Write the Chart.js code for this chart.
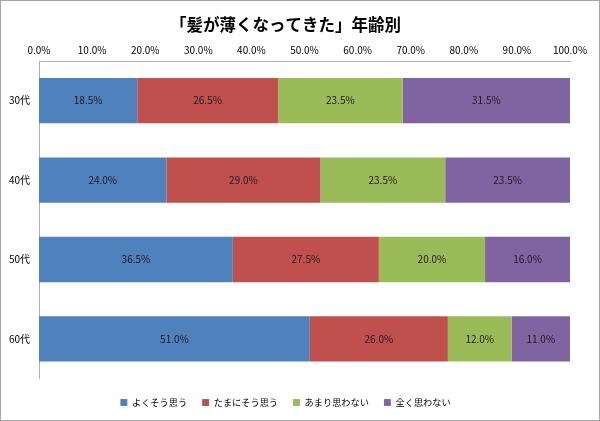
<!DOCTYPE html>
<html>
<head>
<meta charset="utf-8">
<script src="https://cdn.jsdelivr.net/npm/chart.js@4/dist/chart.umd.min.js"></script>
<style>
  html, body { margin: 0; padding: 0; background: #fff; }
  #wrap { position: relative; width: 600px; height: 421px; box-sizing: border-box; border: 1px solid #a6a6a6; }
  canvas { display: block; }
</style>
</head>
<body>
<div id="wrap"><canvas id="grafico" width="598" height="419"></canvas></div>
<script>
const categorias = ['30代', '40代', '50代', '60代'];
const series = ['よくそう思う', 'たまにそう思う', 'あまり思わない', '全く思わない'];
const yokuSouOmou = [18.5, 24.0, 36.5, 51.0];
const tamaniSouOmou = [26.5, 29.0, 27.5, 26.0];
const amariOmowanai = [23.5, 23.5, 20.0, 12.0];
const mattakuOmowanai = [31.5, 23.5, 16.0, 11.0];
const cores = ['#4F81BD', '#C0504D', '#9BBB59', '#8064A2'];

const fonte = '"Noto Sans CJK JP", "Noto Sans", sans-serif';

// rótulos no meio de cada segmento
const rotulos = {
  id: 'rotulos',
  afterDatasetsDraw(chart) {
    const ctx = chart.ctx;
    ctx.save();
    ctx.font = '10px ' + fonte;
    ctx.fillStyle = '#1a1a1a';
    ctx.textAlign = 'center';
    ctx.textBaseline = 'middle';
    chart.data.datasets.forEach((ds, i) => {
      chart.getDatasetMeta(i).data.forEach((bar, j) => {
        const x = (bar.x + bar.base) / 2;
        ctx.fillText(ds.data[j].toFixed(1) + '%', x, bar.y);
      });
    });
    ctx.restore();
  }
};

const valores = [yokuSouOmou, tamaniSouOmou, amariOmowanai, mattakuOmowanai];

new Chart(document.getElementById('grafico'), {
  type: 'bar',
  data: {
    labels: categorias,
    datasets: series.map((nome, i) => ({
      label: nome,
      data: valores[i],
      backgroundColor: cores[i],
      borderColor: 'rgba(255,255,255,0.5)',
      borderWidth: { left: 1, right: 0, top: 0, bottom: 0 },
      categoryPercentage: 0.57,
      barPercentage: 1.0
    }))
  },
  options: {
    indexAxis: 'y',
    responsive: false,
    animation: false,
    layout: { padding: { left: 0, right: 29, top: 10, bottom: 3 } },
    plugins: {
      title: {
        display: true,
        text: '「髪が薄くなってきた」年齢別',
        font: { family: fonte, size: 16.5, weight: 'bold' },
        color: '#000',
        padding: { top: 4, bottom: 5.4 }
      },
      legend: {
        position: 'bottom',
        title: { display: true, text: '', font: { size: 1 }, padding: { top: 1.5, bottom: 1.5 } },
        labels: {
          usePointStyle: true,
          pointStyle: 'rect',
          boxWidth: 7,
          boxHeight: 7,
          padding: 15,
          color: '#000',
          font: { family: fonte, size: 9.2 }
        }
      },
      tooltip: { enabled: false }
    },
    scales: {
      x: {
        stacked: true,
        position: 'top',
        min: 0,
        max: 100,
        afterFit: s => { s.height = 20.8; },
        ticks: {
          stepSize: 10,
          padding: 5,
          color: '#000',
          font: { family: fonte, size: 10 },
          callback: v => v.toFixed(1) + '%'
        },
        grid: { display: false, drawTicks: false },
        border: { color: '#b0b0b0' }
      },
      y: {
        stacked: true,
        afterFit: s => { s.width = 38; },
        ticks: {
          color: '#000',
          font: { family: fonte, size: 10 },
          padding: 9
        },
        grid: { display: false, drawTicks: false },
        border: { color: '#b0b0b0' }
      }
    }
  },
  plugins: [rotulos]
});
</script>
</body>
</html>
